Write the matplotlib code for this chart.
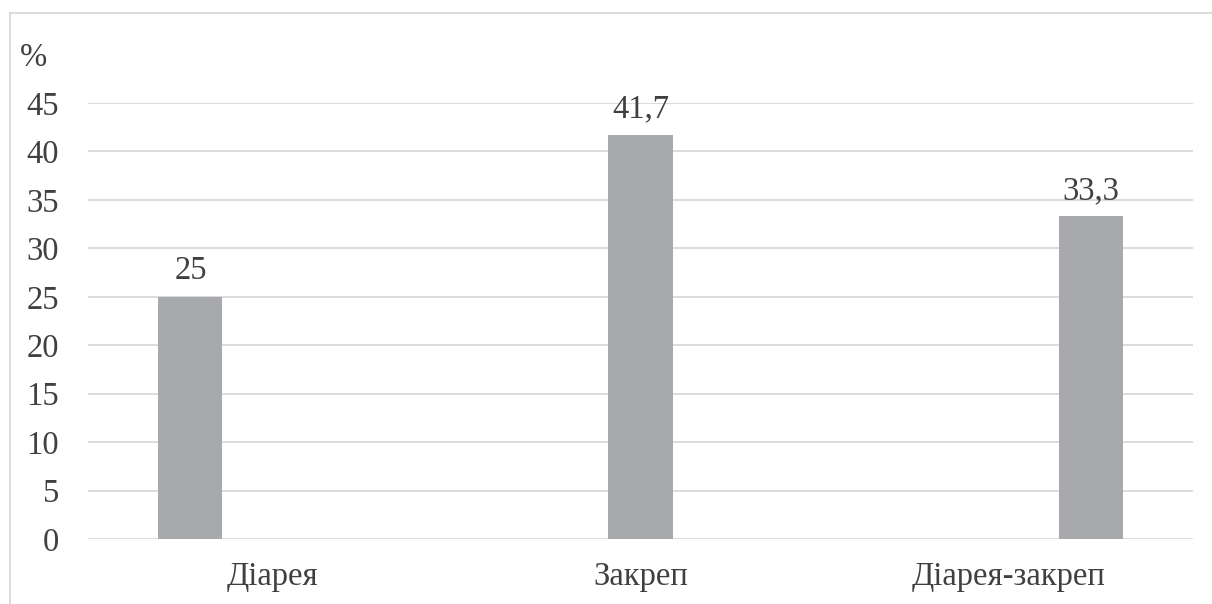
import numpy as np
import matplotlib.pyplot as plt
from matplotlib.lines import Line2D

categories = ['Діарея', 'Закреп', 'Діарея-закреп']
values = [25, 41.7, 33.3]
value_labels = ['25', '41,7', '33,3']
yticks = [0, 5, 10, 15, 20, 25, 30, 35, 40, 45]

plt.rcParams['font.family'] = ['Liberation Serif', 'DejaVu Serif']

W, H = 1212, 604
fig = plt.figure(figsize=(W / 100, H / 100), dpi=100)
ax = fig.add_axes([88 / W, 1 - 539 / H, (1193 - 88) / W, (539 - 103) / H])

text_color = '#404040'
fs = 23.5
x = np.arange(len(categories))
# each series sits in its own slot within the category cluster
offsets = (x - 1) * 0.222
bx = x + offsets
ax.bar(bx, values, width=0.174, color='#a8a9ad', zorder=3)
for xi, v, lab in zip(bx, values, value_labels):
    ax.annotate(lab, (xi, v), xytext=(0, 12.5), textcoords='offset points',
                ha='center', va='baseline', fontsize=fs, color=text_color)

ax.set_xlim(-0.5, 2.5)
ax.set_ylim(0, 45)
ax.set_yticks(yticks)
ax.set_yticklabels([str(t) for t in yticks])
ax.set_xticks(x)
ax.set_xticklabels(categories)
ax.tick_params(axis='both', length=0, labelsize=fs, colors=text_color)
ax.tick_params(axis='y', pad=21)
ax.tick_params(axis='x', pad=16)
ax.yaxis.grid(True, color='#d9d9d9', linewidth=1.3, zorder=0)
for s in ax.spines.values():
    s.set_visible(False)
ax.set_axisbelow(True)

fig.text(20 / W, 1 - 66 / H, '%', fontsize=fs, color=text_color, ha='left', va='baseline')

# thin frame around the chart area (left and top edges visible)
fig.add_artist(Line2D([10 / W, 10 / W], [0, 1 - 13 / H], color='#d9d9d9', linewidth=1.3))
fig.add_artist(Line2D([10 / W, 1], [1 - 13 / H, 1 - 13 / H], color='#d9d9d9', linewidth=1.3))

fig.savefig('out.png', dpi=100)
